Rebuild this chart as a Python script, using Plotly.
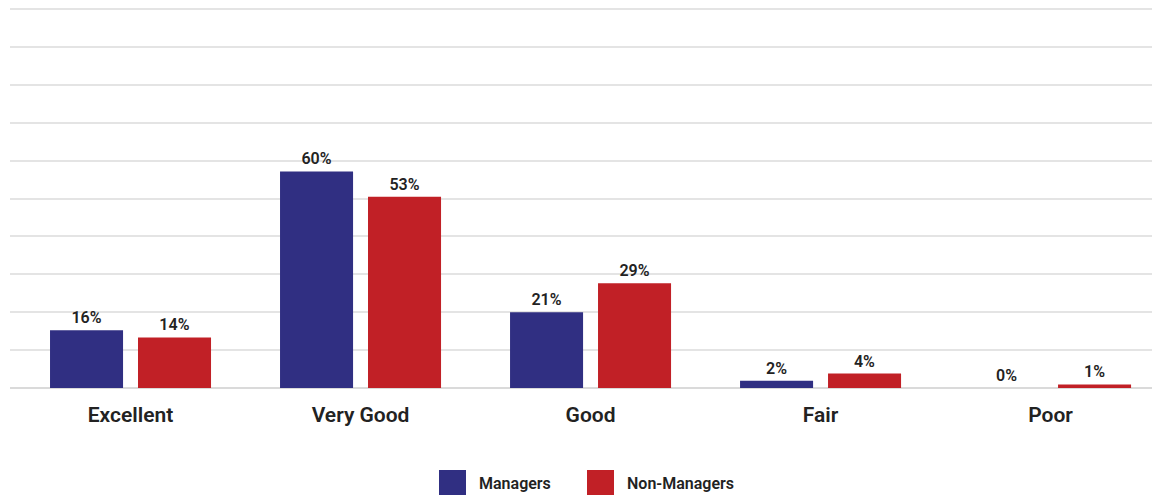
import plotly.graph_objects as go

# Survey ratings by group (percent of respondents)
categories = ["Excellent", "Very Good", "Good", "Fair", "Poor"]
managers = [16, 60, 21, 2, 0]
non_managers = [14, 53, 29, 4, 1]
series_names = ["Managers", "Non-Managers"]

NAVY = "#302F82"
RED = "#C12026"
TEXT = "#222222"
FONT = "Roboto"

W, H = 1152, 495
M_L, M_R, M_T, M_B = 10, 0, 8, 107

fig = go.Figure()
for name, vals, color in [(series_names[0], managers, NAVY),
                          (series_names[1], non_managers, RED)]:
    fig.add_trace(go.Bar(
        x=categories, y=vals, name=name,
        marker=dict(color=color, line=dict(width=0)),
        text=[f"{v}%" for v in vals],
        textposition="outside",
        textfont=dict(family=FONT, size=16, color=TEXT, weight=600),
        cliponaxis=False,
        showlegend=False,
        hoverinfo="skip",
    ))

fig.update_layout(
    width=W, height=H,
    margin=dict(l=M_L, r=M_R, t=M_T, b=M_B),
    paper_bgcolor="white", plot_bgcolor="white",
    barmode="group", bargap=0.235, bargroupgap=0.17,
    font=dict(family=FONT, color=TEXT),
    xaxis=dict(
        type="category", range=[-0.524, 4.441],
        showgrid=False, zeroline=False, showline=False, ticks="",
        tickfont=dict(family=FONT, size=21, color=TEXT, weight=600),
        ticklabelstandoff=12,
    ),
    yaxis=dict(
        range=[0, 105.28], tick0=0, dtick=10.5,
        showticklabels=False, ticks="",
        showgrid=True, gridcolor="#E4E4E4", gridwidth=1.5,
        zeroline=True, zerolinecolor="#DADADA", zerolinewidth=1.5,
        showline=False,
    ),
)

# Legend built from the series names: large square swatches with labels
plot_w = W - M_L - M_R
plot_h = H - M_T - M_B


def px_x(px):
    return (px - M_L) / plot_w


def px_y(py):
    return (H - M_B - py) / plot_h


legend_items = [(series_names[0], NAVY, 439), (series_names[1], RED, 587)]
for name, color, left in legend_items:
    fig.add_shape(type="rect", xref="paper", yref="paper",
                  x0=px_x(left), x1=px_x(left + 27),
                  y0=px_y(497), y1=px_y(470),
                  fillcolor=color, line=dict(width=0), layer="above")
    fig.add_annotation(xref="paper", yref="paper",
                       x=px_x(left + 38), y=px_y(484),
                       text=name, showarrow=False,
                       xanchor="left", yanchor="middle",
                       font=dict(family=FONT, size=16, color=TEXT, weight=600))

fig.write_html("out.html")
